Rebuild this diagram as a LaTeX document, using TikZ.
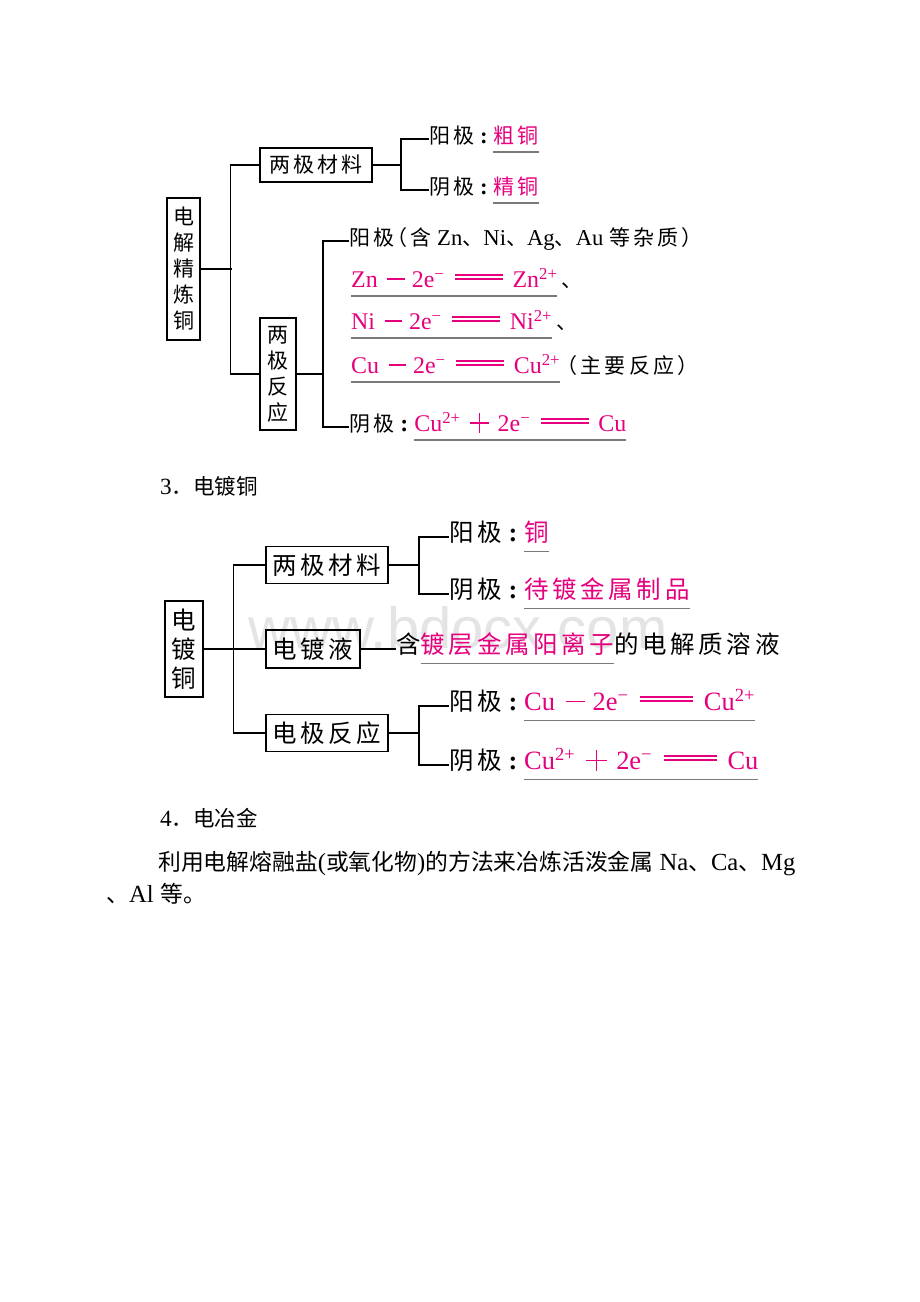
\documentclass[tikz,border=0pt]{standalone}
\usepackage{fontspec}
\setmainfont{Liberation Serif}[Scale=1.08]
\newfontfamily\latA{Liberation Serif}[Scale=1.14]
\newfontfamily\cjk{Noto Sans CJK SC}
\newfontfamily\cjks{Noto Sans CJK SC}[LetterSpace=15]
\newfontfamily\wmfont{Liberation Sans}
\definecolor{mag}{HTML}{E6007E}
\definecolor{ulg}{HTML}{7A7A7A}
\definecolor{wmg}{HTML}{E4E4E4}
\newcommand\U[1]{\sbox0{\color{mag}#1}\rlap{\color{ulg}\rule[-0.42em]{\wd0}{1.7pt}}\usebox0}
\newcommand\Leq{\hspace{0.45em}\rlap{\raisebox{0.29em}{\rule{2em}{0.08em}}}\raisebox{0.45em}{\rule{2em}{0.08em}}\hspace{0.4em}}
\newcommand\mi{\hspace{0.4em}\raisebox{0.3em}{\rule{0.72em}{0.06em}}\hspace{0.3em}}
\newcommand\pl{\hspace{0.4em}\rlap{\raisebox{0.3em}{\rule{0.8em}{0.06em}}}\hspace{0.37em}\raisebox{-0.08em}{\rule{0.06em}{0.82em}}\hspace{0.37em}\hspace{0.35em}}
\newcommand\col{\hspace{0.12em}\textbf{:}\hspace{0.25em}}
\newcommand\emi{\textsuperscript{−}}
\newcommand\tp{\textsuperscript{2+}}
\begin{document}
\begin{tikzpicture}[x=1pt,y=-1pt,
  conn/.style={line width=1.2pt, black},
  bx/.style={draw, line width=1.3pt, inner sep=0pt, align=center},
  bxa/.style={bx, font=\fontsize{21}{26}\selectfont\cjks},
  bxb/.style={bx, font=\fontsize{24.5}{29}\selectfont\cjks},
  leafa/.style={anchor=west, inner sep=0pt, font=\fontsize{21}{26}\selectfont, text height=0.88em, text depth=0.12em},
  eqa/.style={leafa, font=\fontsize{21}{26}\selectfont\latA},
  leafb/.style={anchor=west, inner sep=0pt, font=\fontsize{24.5}{29}\selectfont, text height=0.88em, text depth=0.12em},
  para/.style={anchor=west, inner sep=0pt, font=\fontsize{21.5}{26}\selectfont, text height=0.88em, text depth=0.12em},
  parb/.style={anchor=west, inner sep=0pt, font=\fontsize{22.8}{26}\selectfont, text height=0.88em, text depth=0.12em},
]
\useasboundingbox (0,0) rectangle (920,1302);
\fill[white] (0,0) rectangle (920,1302);

% watermark
\node[text=wmg, font=\wmfont\fontsize{58}{66}\selectfont, inner sep=0pt] (wm) at (458,628) {www.bdocx.com};

% ---------- Diagram 1 ----------
\node[bxa, minimum width=33pt, minimum height=142pt] (d1) at (183.5,269) {电\\解\\精\\炼\\铜};
\node[bxa, minimum width=112pt, minimum height=34pt] (m1) at (316,165) {两极材料};
\node[bxa, minimum width=36pt, minimum height=112pt] (r1) at (278,374) {两\\极\\反\\应};
\draw[conn] (d1.east) -- ++(31,0);
\draw[conn] (m1.west) -- ++(-29,0) |- (r1.west);

\node[leafa] (a1) at (429,139) {{\cjks 阳极}\col\U{\cjks 粗铜}};
\node[leafa] (b1) at (429,190) {{\cjks 阴极}\col\U{\cjks 精铜}};
\draw[conn] (m1.east) -- ++(29,0);
\draw[conn] (a1.west) -- ++(-28,0) |- (b1.west);

\node[leafa] (c1) at (349,241) {{\cjks 阳极}\hspace{-0.35em}{\cjks （含} Zn{\cjk 、}Ni{\cjk 、}Ag{\cjk 、}Au {\cjks 等杂质）}};
\node[eqa] (e1) at (351,283) {\U{Zn\mi 2e\emi\Leq Zn\tp}{\cjk\hspace{0.2em}、}};
\node[eqa] (e2) at (351,325) {\U{Ni\mi 2e\emi\Leq Ni\tp}{\cjk\hspace{0.2em}、}};
\node[eqa] (e3) at (351,369) {\U{Cu\mi 2e\emi\Leq Cu\tp}\hspace{-0.15em}{\cjks （主要反应）}};
\node[eqa] (f1) at (349,427) {{\cjks 阴极}\col\U{Cu\tp\pl 2e\emi\Leq Cu}};
\draw[conn] (r1.east) -- ++(27,0);
\draw[conn] (c1.west) -- ++(-26,0) |- (f1.west);

% ---------- heading 3 ----------
\node[para] (h3) at (160,490) {3{\cjk ．电镀铜}};

% ---------- Diagram 2 ----------
\node[bxb, minimum width=38pt, minimum height=96pt] (d2) at (184,649) {电\\镀\\铜};
\node[bxb, minimum width=122pt, minimum height=37pt] (m2) at (327,565) {两极材料};
\node[bxb, minimum width=94pt, minimum height=38pt] (s2) at (313,649) {电镀液};
\node[bxb, minimum width=122pt, minimum height=37pt] (r2) at (327,733) {电极反应};
\draw[conn] (d2.east) -- (s2.west);
\draw[conn] (m2.west) -- ++(-32,0) |- (r2.west);

\node[leafb] (a2) at (449,537) {{\cjks 阳极}\col\U{\cjks 铜}};
\node[leafb] (b2) at (449,594) {{\cjks 阴极}\col\U{\cjks 待镀金属制品}};
\draw[conn] (m2.east) -- ++(31,0);
\draw[conn] (a2.west) -- ++(-30,0) |- (b2.west);

\node[leafb] (l2) at (396,649) {{\cjks 含}\U{\cjks 镀层金属阳离子}{\cjks 的电解质溶液}};
\draw[conn] (s2.east) -- (l2.west);

\node[leafb] (c2) at (449,706) {{\cjks 阳极}\col\U{Cu\mi 2e\emi\Leq Cu\tp}};
\node[leafb] (g2) at (449,765) {{\cjks 阴极}\col\U{Cu\tp\pl 2e\emi\Leq Cu}};
\draw[conn] (r2.east) -- ++(31,0);
\draw[conn] (c2.west) -- ++(-30,0) |- (g2.west);

% ---------- heading 4 and paragraph ----------
\node[para] (h4) at (160,822) {4{\cjk ．电冶金}};
\node[parb] (p1) at (158,866) {{\cjk 利用电解熔融盐}({\cjk 或氧化物}){\cjk 的方法来冶炼活泼金属} Na{\cjk 、}Ca{\cjk 、}Mg};
\node[parb, anchor=east] (p2) at (154,898) {{\cjk 、}Al};
\node[parb] (p3) at (160,898) {{\cjk 等。}};
\end{tikzpicture}
\end{document}
